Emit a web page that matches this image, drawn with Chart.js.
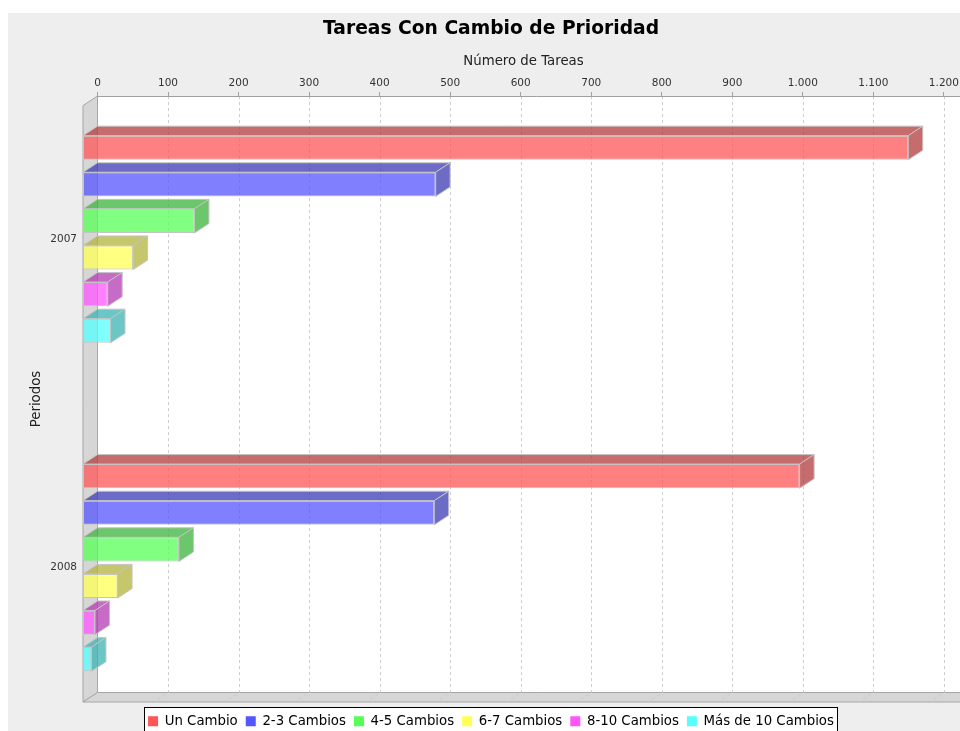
<!DOCTYPE html>
<html lang="es">
<head>
<meta charset="utf-8">
<title>Tareas Con Cambio de Prioridad</title>
<script src="https://cdn.jsdelivr.net/npm/chart.js@4.4.1/dist/chart.umd.min.js"></script>
<style>
  html, body { margin: 0; padding: 0; background: #fff; overflow: hidden; }
  #grafico { position: absolute; left: 8px; top: 13px; background: #eeeeee; }
</style>
</head>
<body>
<canvas id="grafico" width="966" height="740"></canvas>
<script>
// datos
const periodos = ['2007', '2008'];
const nombresSeries = ['Un Cambio', '2-3 Cambios', '4-5 Cambios', '6-7 Cambios', '8-10 Cambios', 'Más de 10 Cambios'];
const unCambio = [1170, 1016];
const dosTresCambios = [500, 498];
const cuatroCincoCambios = [158, 136];
const seisSieteCambios = [71, 49];
const ochoDiezCambios = [35, 17];
const masDiezCambios = [39, 12];
const colores = ['#FF5555', '#5555FF', '#55FF55', '#FFFF55', '#FF55FF', '#55FFFF'];

// efecto 3D (profundidad en px)
const DX = 14.5;
const DY = 9.5;
const EJE_MAX = 1228.5;          // tope del eje de valores (+5%)
const ANCHO_PLOT = 881;          // ancho del area de datos
const PROF_X = EJE_MAX * DX / (ANCHO_PLOT - DX);
const FUENTE = 'DejaVu Sans';

function rgba(hex, f, a) {
  const n = parseInt(hex.slice(1), 16);
  const r = Math.round(((n >> 16) & 255) * f);
  const g = Math.round(((n >> 8) & 255) * f);
  const b = Math.round((n & 255) * f);
  return `rgba(${r},${g},${b},${a})`;
}

function poligono(ctx, pts) {
  ctx.beginPath();
  ctx.moveTo(pts[0][0], pts[0][1]);
  for (let i = 1; i < pts.length; i++) ctx.lineTo(pts[i][0], pts[i][1]);
  ctx.closePath();
}

const valores = [unCambio, dosTresCambios, cuatroCincoCambios, seisSieteCambios, ochoDiezCambios, masDiezCambios];

const datasets = valores.map((serie, i) => ({
  label: nombresSeries[i],
  data: serie.map((v, j) => ({ x: v, y: j })),
  backgroundColor: rgba(colores[i], 1, 0.75),
  borderColor: '#c4c4c4',
  borderWidth: 1,
  borderSkipped: false,
  caraColor: rgba(colores[i], 0.7, 0.75),
  categoryPercentage: 0.6687,
  barPercentage: 0.66,
}));

const caja3d = {
  id: 'caja3d',
  afterLayout(chart) {
    // baja un poco la leyenda
    chart.legend.top += 4.5;
    chart.legend.bottom += 4.5;
  },
  beforeDraw(chart) {
    const { ctx, chartArea: a, scales } = chart;
    const x0 = scales.x.getPixelForValue(0);
    const bx0 = scales.xTop.getPixelForValue(0);
    const top = a.top, bottom = a.bottom, right = a.right;
    ctx.save();

    // pared del fondo
    ctx.fillStyle = '#ffffff';
    ctx.fillRect(bx0, top, right - bx0, bottom - DY - top);

    // pared izquierda y suelo
    ctx.fillStyle = '#d6d6d6';
    ctx.strokeStyle = '#a6a6a6';
    ctx.lineWidth = 1;
    poligono(ctx, [[x0, top + DY], [bx0, top], [bx0, bottom - DY], [x0, bottom]]);
    ctx.fill();
    ctx.stroke();
    poligono(ctx, [[x0, bottom], [bx0, bottom - DY], [right + 20, bottom - DY], [right + 20 - DX, bottom]]);
    ctx.fill();
    ctx.stroke();

    // rejilla
    ctx.strokeStyle = 'rgba(200,200,200,0.9)';
    ctx.setLineDash([3, 3]);
    scales.xTop.ticks.forEach(t => {
      if (t.value <= 0) return;
      const px = Math.round(scales.xTop.getPixelForValue(t.value)) + 0.5;
      ctx.beginPath();
      ctx.moveTo(px, top);
      ctx.lineTo(px, bottom - DY);
      ctx.lineTo(px - DX, bottom);
      ctx.stroke();
    });
    ctx.setLineDash([]);

    // linea del eje superior
    ctx.strokeStyle = '#a0a0a0';
    ctx.beginPath();
    ctx.moveTo(bx0, Math.round(top) + 0.5);
    ctx.lineTo(right + 20, Math.round(top) + 0.5);
    ctx.stroke();

    // marco de la leyenda
    const cajas = chart.legend.legendHitBoxes;
    if (cajas && cajas.length) {
      const ultima = cajas[cajas.length - 1];
      const cy = cajas[0].top + cajas[0].height / 2;
      const l = Math.round(cajas[0].left - 4) + 0.5;
      const r = Math.round(ultima.left + ultima.width + 3) + 0.5;
      const t = Math.round(cy - 14) + 0.5;
      ctx.fillStyle = '#ffffff';
      ctx.fillRect(l, t, r - l, 40);
      ctx.strokeStyle = '#000000';
      ctx.strokeRect(l, t, r - l, 40);
    }
    ctx.restore();
  },
  afterDatasetsDraw(chart) {
    const { ctx } = chart;
    ctx.save();
    ctx.lineWidth = 1;
    ctx.strokeStyle = '#c4c4c4';
    chart.data.datasets.forEach((ds, i) => {
      const meta = chart.getDatasetMeta(i);
      meta.data.forEach(bar => {
        const { x, y, base, height } = bar.getProps(['x', 'y', 'base', 'height'], true);
        const t = y - height / 2;
        const b = y + height / 2;
        ctx.fillStyle = ds.caraColor;
        poligono(ctx, [[base, t], [base + DX, t - DY], [x + DX, t - DY], [x, t]]);
        ctx.fill();
        ctx.stroke();
        poligono(ctx, [[x, t], [x + DX, t - DY], [x + DX, b - DY], [x, b]]);
        ctx.fill();
        ctx.stroke();
      });
    });
    ctx.restore();
  }
};

const miles = v => String(v).replace(/\B(?=(\d{3})+(?!\d))/g, '.');

new Chart(document.getElementById('grafico'), {
  type: 'bar',
  data: { datasets },
  plugins: [caja3d],
  options: {
    indexAxis: 'y',
    responsive: false,
    devicePixelRatio: 1,
    animation: false,
    layout: { padding: { left: 10, right: 10, top: 0, bottom: 19.7 } },
    scales: {
      x: {
        type: 'linear',
        display: false,
        min: 0,
        max: EJE_MAX + PROF_X,
      },
      xTop: {
        type: 'linear',
        position: 'top',
        min: -PROF_X,
        max: EJE_MAX,
        afterFit(s) { s.height = 51.8; },
        border: { display: false },
        grid: { drawOnChartArea: false, drawTicks: true, tickLength: 4, color: '#a0a0a0' },
        ticks: {
          stepSize: 100,
          includeBounds: false,
          autoSkip: false,
          maxRotation: 0,
          padding: 2,
          color: '#333333',
          font: { family: FUENTE, size: 10.5 },
          callback: v => miles(v),
        },
        title: {
          display: true,
          text: 'Número de Tareas',
          color: '#222222',
          font: { family: FUENTE, size: 13.3 },
          padding: { top: 9.8, bottom: 0 },
        },
      },
      y: {
        type: 'linear',
        reverse: true,
        offset: false,
        min: -0.436,
        max: 1.409,
        afterFit(s) { s.width = 65; },
        border: { display: false },
        grid: { display: false, drawTicks: false, offset: false },
        ticks: {
          stepSize: 1,
          includeBounds: false,
          padding: 6,
          color: '#333333',
          font: { family: FUENTE, size: 10.5 },
          callback: v => periodos[v] ?? '',
        },
        title: {
          display: true,
          text: 'Periodos',
          color: '#222222',
          font: { family: FUENTE, size: 13.3 },
          padding: { top: 11, bottom: 0 },
        },
      },
    },
    plugins: {
      title: {
        display: true,
        text: 'Tareas Con Cambio de Prioridad',
        color: '#000000',
        font: { family: FUENTE, size: 18.7, weight: 'bold' },
        padding: { top: 4.8, bottom: 4 },
      },
      legend: {
        position: 'bottom',
        labels: {
          boxWidth: 10,
          boxHeight: 10,
          padding: 8,
          color: '#000000',
          font: { family: FUENTE, size: 13.3 },
          generateLabels: chart => chart.data.datasets.map((ds, i) => ({
            text: ds.label,
            fillStyle: colores[i],
            strokeStyle: colores[i],
            lineWidth: 0,
            datasetIndex: i,
            hidden: false,
          })),
        },
      },
      tooltip: { enabled: false },
    },
  },
});
</script>
</body>
</html>
